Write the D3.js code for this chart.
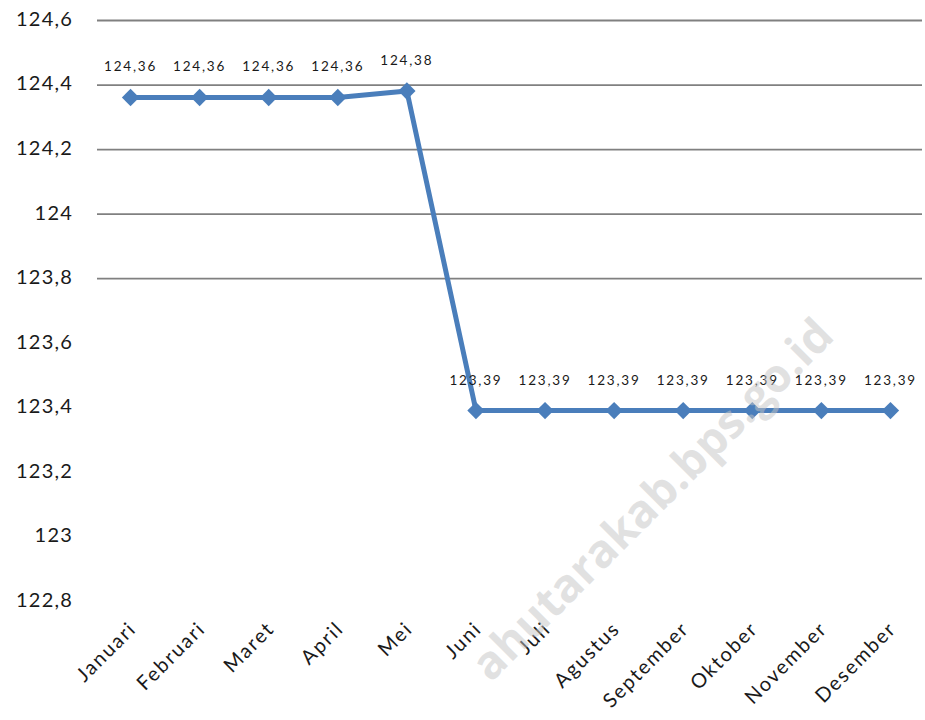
<!DOCTYPE html>
<html lang="id">
<head>
<meta charset="utf-8">
<title>Grafik bulanan</title>
<script src="https://cdn.jsdelivr.net/npm/d3@7"></script>
<style>
  body { margin: 0; background: #fff; }
  svg { display: block; }
</style>
</head>
<body>
<div id="chart"></div>
<script>
// données du graphique
const months = ["Januari", "Februari", "Maret", "April", "Mei", "Juni",
    "Juli", "Agustus", "September", "Oktober", "November", "Desember"];
const values = [124.36, 124.36, 124.36, 124.36, 124.38, 123.39,
    123.39, 123.39, 123.39, 123.39, 123.39, 123.39];
const yTicks = [122.8, 123, 123.2, 123.4, 123.6, 123.8, 124, 124.2, 124.4, 124.6];
const gridTicks = [123.8, 124, 124.2, 124.4, 124.6];
const watermark = "ahutarakab.bps.go.id";

const width = 925;
const height = 720;
const blue = "#4a7ebb";

// format indonésien : virgule décimale
const locale = d3.formatLocale({decimal: ",", thousands: ".", grouping: [3], currency: ["Rp", ""]});
const fmtTick = locale.format("~f");
const fmtLabel = locale.format(".2f");

/**
 * Dessin du graphique
 */
function drawChart() {
    const svg = d3.select("#chart")
    .append("svg")
    .attr("width", width)
    .attr("height", height);

    // échelles
    const x = d3.scaleBand()
    .domain(months)
    .range([96, 925]);

    const y = d3.scaleLinear()
    .domain([122.8, 124.6])
    .range([601, 20]);

    const cx = function(m) { return x(m) + x.bandwidth() / 2; };

    // lignes de grille (seulement la partie haute)
    const grid = svg.append("g")
    .attr("transform", "translate(97, 0)")
    .call(d3.axisLeft(y).tickValues(gridTicks).tickSize(-825).tickFormat(""));
    grid.select(".domain").remove();
    grid.selectAll("line")
    .attr("stroke", "#808080")
    .attr("stroke-width", 1.8);

    // axe y
    const yAxis = svg.append("g")
    .attr("transform", "translate(75, -1)")
    .call(d3.axisLeft(y).tickValues(yTicks).tickSize(0).tickPadding(2).tickFormat(fmtTick));
    yAxis.select(".domain").remove();
    yAxis.selectAll("text")
    .style("font-family", "Lato, sans-serif")
    .style("font-size", "20px")
    .style("letter-spacing", "1.2px")
    .attr("fill", "#1a1a1a");

    // axe x avec étiquettes inclinées
    const xAxis = svg.append("g")
    .attr("transform", "translate(0, 630)")
    .call(d3.axisBottom(x).tickSize(0));
    xAxis.select(".domain").remove();
    xAxis.selectAll("line").remove();
    xAxis.selectAll("text")
    .attr("y", 0)
    .attr("dy", 0)
    .attr("transform", "translate(7, 0) rotate(-45)")
    .style("text-anchor", "end")
    .style("font-family", "Lato, sans-serif")
    .style("font-size", "20px")
    .style("letter-spacing", "1.8px")
    .attr("fill", "#1a1a1a");

    // la ligne
    const line = d3.line()
    .x(function(d, i) { return cx(months[i]); })
    .y(function(d) { return y(d); });

    svg.append("path")
    .datum(values)
    .attr("d", line)
    .attr("fill", "none")
    .attr("stroke", blue)
    .attr("stroke-width", 5)
    .attr("stroke-linejoin", "round");

    // marqueurs en losange
    svg.selectAll(".marker")
    .data(values)
    .enter()
    .append("path")
    .attr("class", "marker")
    .attr("d", d3.symbol(d3.symbolSquare, 150))
    .attr("transform", function(d, i) {
        return "translate(" + cx(months[i]) + "," + y(d) + ") rotate(45)";
    })
    .attr("fill", blue);

    // étiquettes de valeur
    svg.selectAll(".value")
    .data(values)
    .enter()
    .append("text")
    .attr("class", "value")
    .attr("x", function(d, i) { return cx(months[i]); })
    .attr("y", function(d) { return y(d) - 26; })
    .attr("text-anchor", "middle")
    .style("font-family", "Lato, sans-serif")
    .style("font-size", "13.5px")
    .style("letter-spacing", "1.8px")
    .attr("fill", "#1a1a1a")
    .text(function(d) { return fmtLabel(d); });

    // filigrane
    svg.append("text")
    .attr("transform", "translate(836, 338) rotate(-45)")
    .attr("text-anchor", "end")
    .style("font-family", "'Open Sans', sans-serif")
    .style("font-weight", "bold")
    .style("font-size", "46px")
    .attr("fill", "#c4c4c4")
    .attr("fill-opacity", 0.5)
    .text(watermark);
}

drawChart();
</script>
</body>
</html>
